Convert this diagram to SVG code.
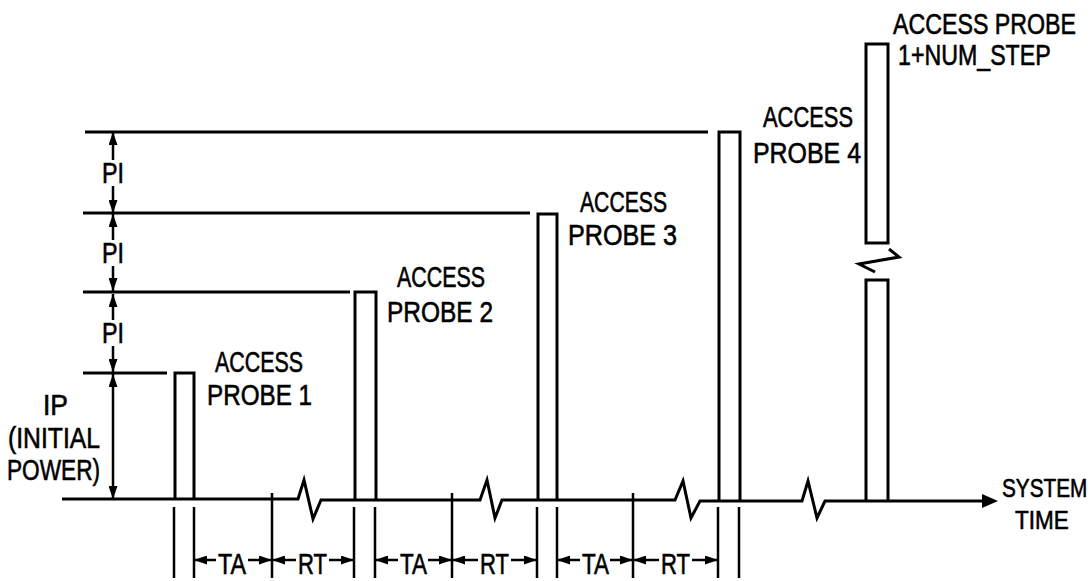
<svg xmlns="http://www.w3.org/2000/svg" width="1092" height="581" viewBox="0 0 1092 581">
<defs>
<style>
.ln{fill:none;stroke:#000;stroke-width:3;stroke-linejoin:miter;stroke-linecap:butt}
.th{fill:none;stroke:#000;stroke-width:2.5}
.t{font-family:"Liberation Sans",Arial,sans-serif;font-size:29px;fill:#000;stroke:#000;stroke-width:0.6}
.ar{fill:none;stroke:#000;stroke-width:2.5;marker-end:url(#ah)}
</style>
<marker id="ah" viewBox="0 0 13 9" refX="13" refY="4.5" markerWidth="13" markerHeight="9" markerUnits="userSpaceOnUse" orient="auto-start-reverse">
<path d="M0,0 L13,4.5 L0,9 z" fill="#000"/>
</marker>
</defs>
<rect width="1092" height="581" fill="#fff"/>

<g id="levels">
<path class="ln" d="M85,132 H708 M83,213 H530 M83,292 H350 M83,373 H167"/>
</g>

<g id="axis">
<path class="ln" d="M62,499 H298 L304,480 L313,519 L321,500 H480 L487,480 L495,518 L502,500 H675 L683,481 L691,518 L700,501 H802 L808,481 L817,518 L825,501 H984"/>
<path d="M982,494 L998,501 L982,508 z" fill="#000"/>
</g>

<g id="probe1">
<path class="ln" d="M175,499 V373 H194 V499"/>
<text class="t" x="215" y="372" textLength="88" lengthAdjust="spacingAndGlyphs">ACCESS</text>
<text class="t" x="207" y="405" textLength="105" lengthAdjust="spacingAndGlyphs">PROBE 1</text>
</g>
<g id="probe2">
<path class="ln" d="M355,500 V292 H376 V500"/>
<text class="t" x="397" y="287" textLength="88" lengthAdjust="spacingAndGlyphs">ACCESS</text>
<text class="t" x="387" y="322" textLength="106" lengthAdjust="spacingAndGlyphs">PROBE 2</text>
</g>
<g id="probe3">
<path class="ln" d="M538,500 V214 H557 V500"/>
<text class="t" x="580" y="212" textLength="87" lengthAdjust="spacingAndGlyphs">ACCESS</text>
<text class="t" x="568" y="245" textLength="109" lengthAdjust="spacingAndGlyphs">PROBE 3</text>
</g>
<g id="probe4">
<path class="ln" d="M719,501 V132 H740 V501"/>
<text class="t" x="763" y="127" textLength="90" lengthAdjust="spacingAndGlyphs">ACCESS</text>
<text class="t" x="753" y="163" textLength="108" lengthAdjust="spacingAndGlyphs">PROBE 4</text>
</g>
<g id="probe5">
<path class="ln" d="M866,243 V44 H888 V243 Z"/>
<path class="ln" d="M866,501 V280 H888 V501"/>
<path class="ln" d="M889,249 L899,257 L859,264 L875,272"/>
<text class="t" transform="translate(893,34) scale(0.8,1)">ACCESS PROBE</text>
<text class="t" transform="translate(898,65) scale(0.8,1)">1+NUM_STEP</text>
</g>

<g id="axis-label">
<text class="t" transform="translate(1002,497) scale(0.83,1)" style="font-size:25px">SYSTEM</text>
<text class="t" transform="translate(1015,529) scale(0.9,1)" style="font-size:25px">TIME</text>
</g>

<g id="power-dims">
<path class="ar" d="M113,160 V132"/>
<path class="ar" d="M113,186 V213"/>
<path class="ar" d="M113,240 V214"/>
<path class="ar" d="M113,266 V291"/>
<path class="ar" d="M113,320 V294"/>
<path class="ar" d="M113,346 V372"/>
<path class="th" d="M113,374 V499" style="marker-start:url(#ah);marker-end:url(#ah)"/>
<text class="t" x="102" y="183" textLength="22" lengthAdjust="spacingAndGlyphs">PI</text>
<text class="t" x="102" y="263" textLength="22" lengthAdjust="spacingAndGlyphs">PI</text>
<text class="t" x="102" y="343" textLength="22" lengthAdjust="spacingAndGlyphs">PI</text>
<text class="t" x="43" y="415" textLength="25" lengthAdjust="spacingAndGlyphs">IP</text>
<text class="t" x="8" y="448" textLength="92" lengthAdjust="spacingAndGlyphs">(INITIAL</text>
<text class="t" x="7" y="480" textLength="93" lengthAdjust="spacingAndGlyphs">POWER)</text>
</g>

<g id="time-dims">
<path class="th" d="M174,507 V578 M194,507 V578 M272,493 V578 M354,507 V578 M375,507 V578 M452,493 V578 M537,507 V578 M557,507 V578 M633,493 V578 M718,507 V578 M739,507 V578"/>
<path class="ar" d="M216,560 H194"/>
<path class="ar" d="M248,560 H272"/>
<path class="ar" d="M296,560 H272"/>
<path class="ar" d="M329,560 H354"/>
<path class="ar" d="M398,560 H375"/>
<path class="ar" d="M428,560 H452"/>
<path class="ar" d="M478,560 H452"/>
<path class="ar" d="M511,560 H537"/>
<path class="ar" d="M580,560 H557"/>
<path class="ar" d="M610,560 H633"/>
<path class="ar" d="M659,560 H633"/>
<path class="ar" d="M692,560 H718"/>
<text class="t" x="218" y="574" textLength="28" lengthAdjust="spacingAndGlyphs">TA</text>
<text class="t" x="298" y="574" textLength="29" lengthAdjust="spacingAndGlyphs">RT</text>
<text class="t" x="400" y="574" textLength="27" lengthAdjust="spacingAndGlyphs">TA</text>
<text class="t" x="480" y="574" textLength="29" lengthAdjust="spacingAndGlyphs">RT</text>
<text class="t" x="582" y="574" textLength="27" lengthAdjust="spacingAndGlyphs">TA</text>
<text class="t" x="661" y="574" textLength="29" lengthAdjust="spacingAndGlyphs">RT</text>
</g>
</svg>
